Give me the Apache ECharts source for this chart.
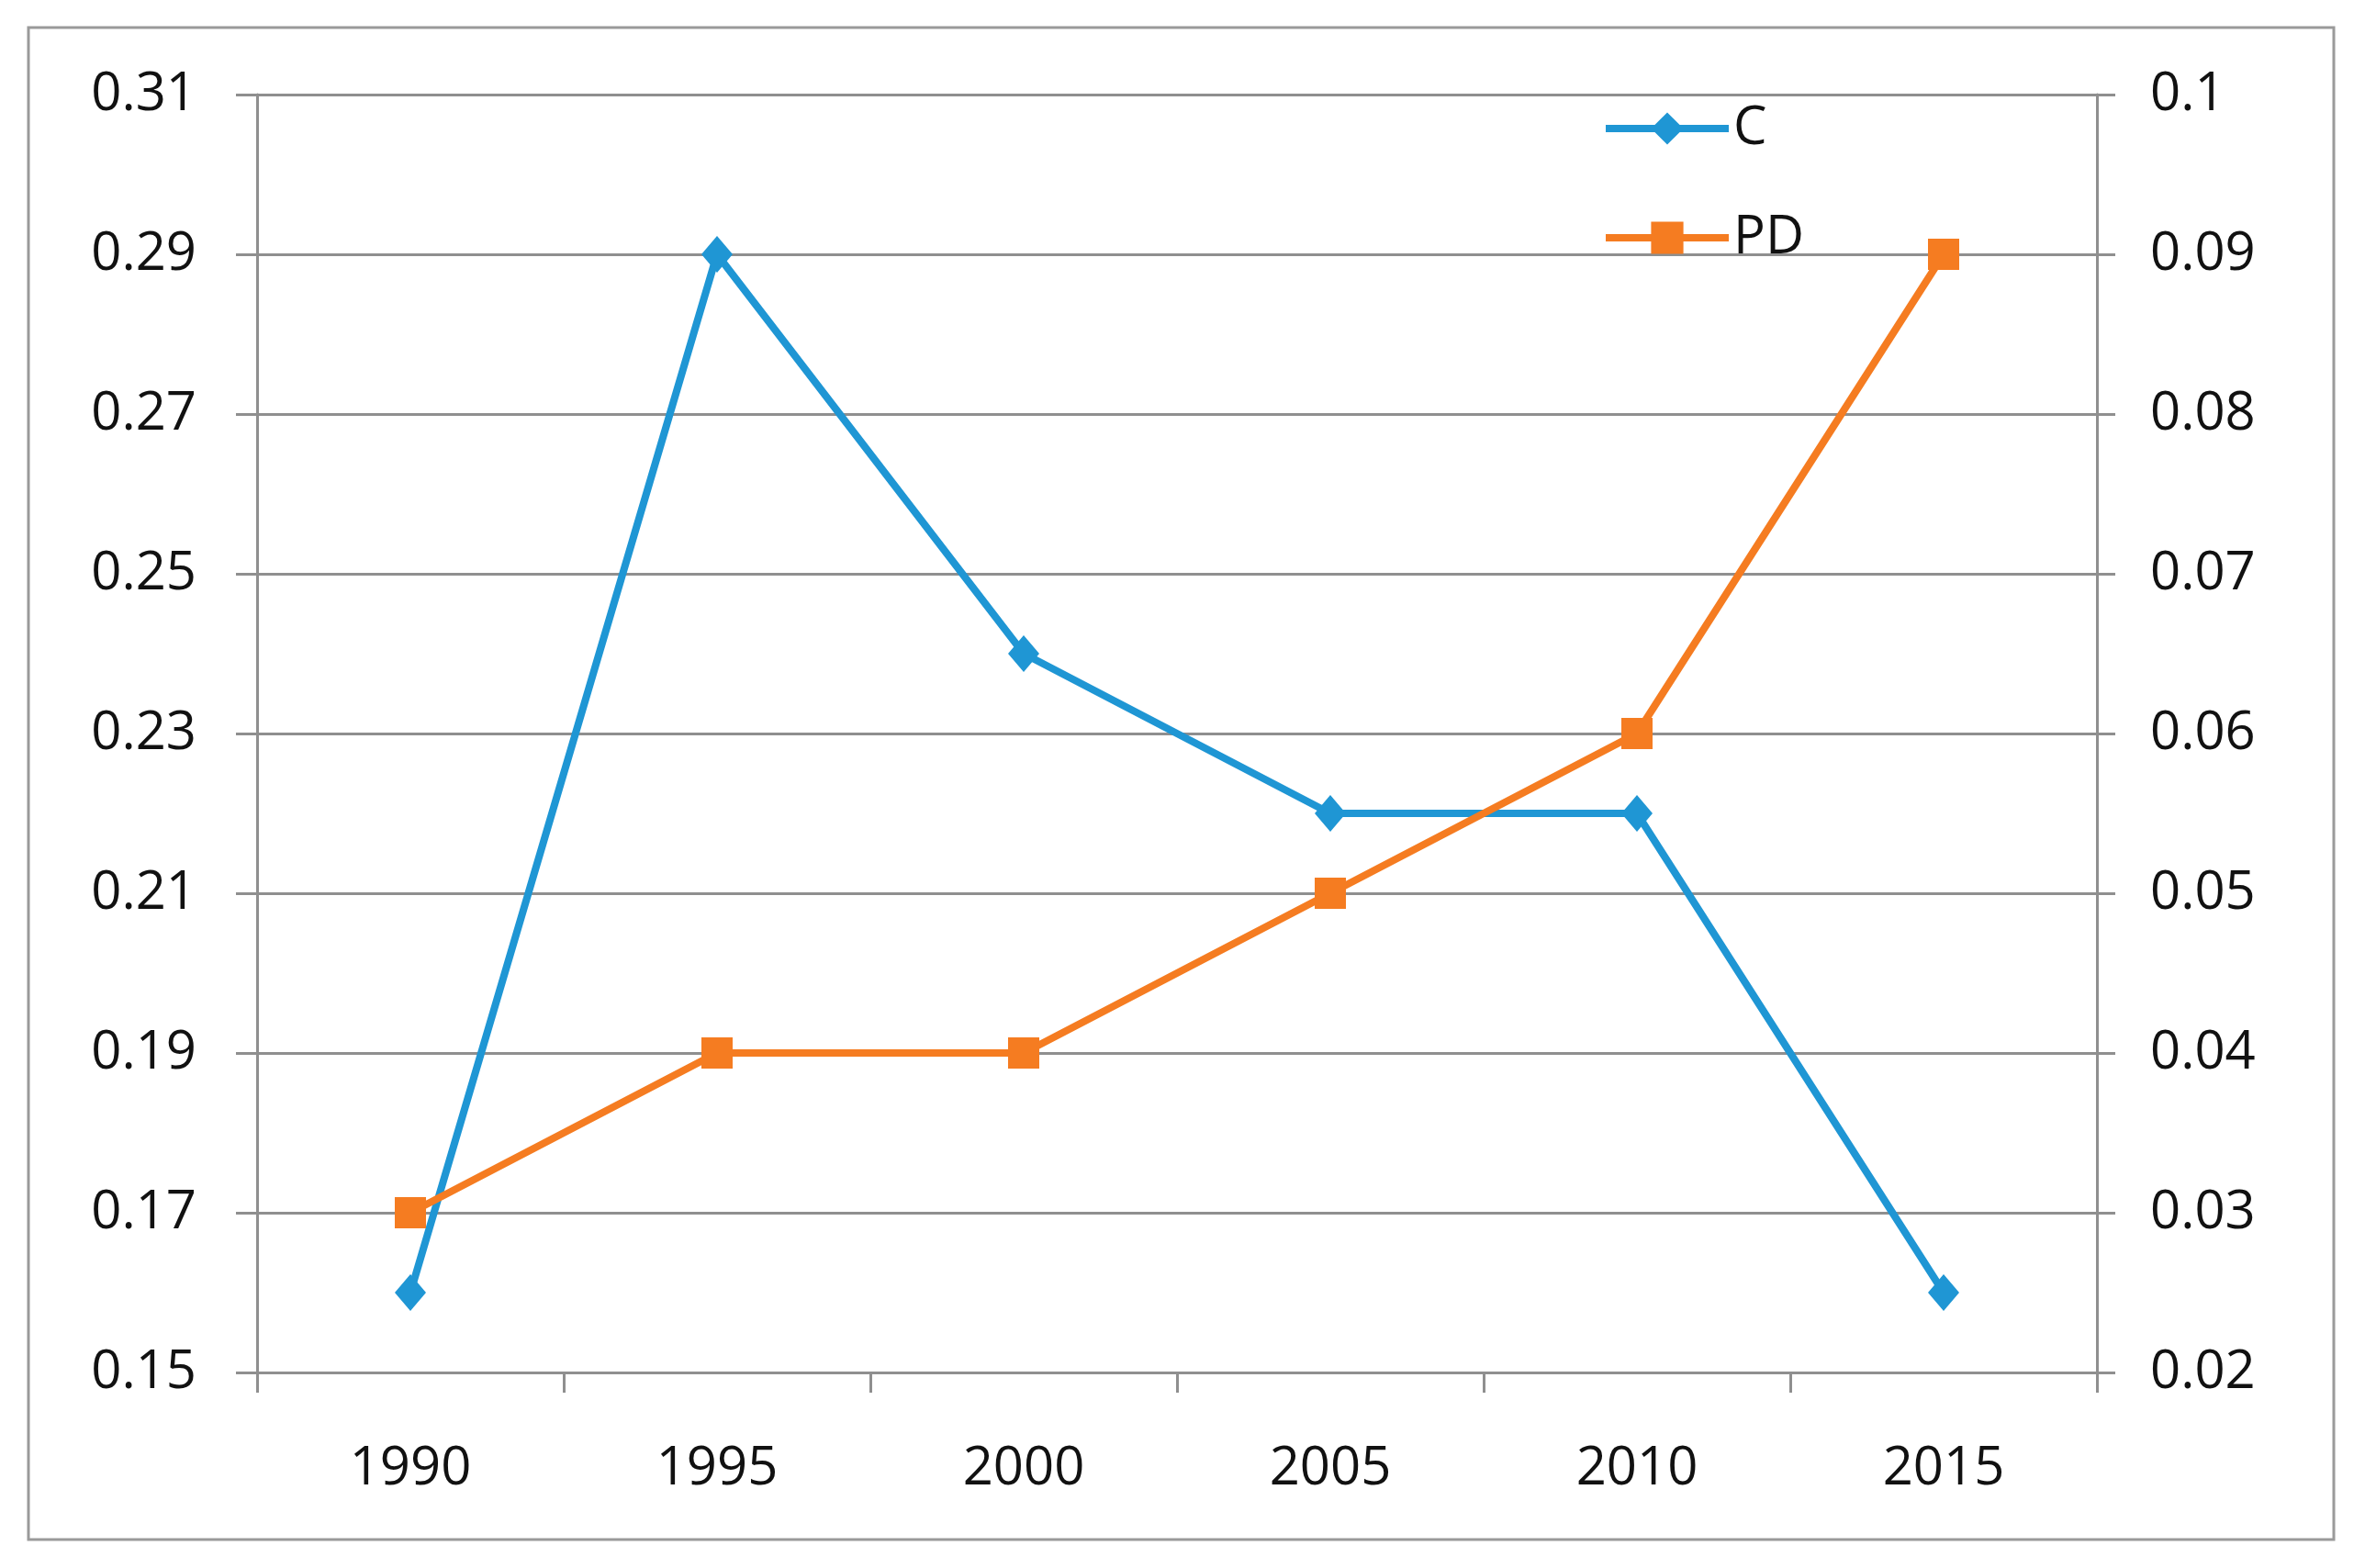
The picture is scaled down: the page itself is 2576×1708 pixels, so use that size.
<!DOCTYPE html>
<html>
<head>
<meta charset="utf-8">
<script src="https://cdn.jsdelivr.net/npm/echarts@6/dist/echarts.min.js"></script>
<style>
html,body{margin:0;padding:0;background:#fff;}
#chart{width:2576px;height:1708px;}
</style>
</head>
<body>
<div id="chart"></div>
<script>
const categories = ['1990', '1995', '2000', '2005', '2010', '2015'];
const seriesC = [0.16, 0.29, 0.24, 0.22, 0.22, 0.16];
const seriesPD = [0.03, 0.04, 0.04, 0.05, 0.06, 0.09];
const leftTicks = { min: 0.15, max: 0.31, interval: 0.02 };
const rightTicks = { min: 0.02, max: 0.1, interval: 0.01 };

const blue = '#1f96d4';
const orange = '#f57c21';
const gray = '#8f8f8f';
const font = 'Open Sans';
const fs = 58;

const chart = echarts.init(document.getElementById('chart'), null, { renderer: 'canvas' });
chart.setOption({
  backgroundColor: '#fff',
  animation: false,
  textStyle: { fontFamily: font },
  graphic: [{
    type: 'rect',
    shape: { x: 31, y: 30, width: 2511, height: 1647 },
    style: { fill: 'none', stroke: '#9a9a9a', lineWidth: 3 },
    silent: true
  }],
  legend: {
    orient: 'vertical',
    left: 1740,
    top: 106,
    itemWidth: 134,
    itemHeight: 44,
    itemGap: 61,
    lineStyle: { width: 8 },
    textStyle: { fontFamily: font, fontSize: fs, color: '#111', lineHeight: 44 },
    data: ['C', 'PD']
  },
  grid: { left: 280, right: 292, top: 103, bottom: 213 },
  xAxis: {
    type: 'category',
    data: categories,
    boundaryGap: true,
    axisLine: { lineStyle: { color: gray, width: 3 } },
    axisTick: { show: true, length: 22, lineStyle: { color: gray, width: 3 } },
    axisLabel: { fontFamily: font, fontSize: fs, color: '#111', margin: 76 },
    splitLine: { show: false }
  },
  yAxis: [{
    type: 'value',
    min: leftTicks.min, max: leftTicks.max, interval: leftTicks.interval,
    axisLine: { show: true, lineStyle: { color: gray, width: 3 } },
    axisTick: { show: true, length: 23, lineStyle: { color: gray, width: 3 } },
    axisLabel: { fontFamily: font, fontSize: fs, color: '#111', margin: 66, formatter: v => (+v.toFixed(2)).toString() },
    splitLine: { show: true, lineStyle: { color: gray, width: 3 } }
  }, {
    type: 'value',
    position: 'right',
    min: rightTicks.min, max: rightTicks.max, interval: rightTicks.interval,
    axisLine: { show: true, lineStyle: { color: gray, width: 3 } },
    axisTick: { show: true, length: 20, lineStyle: { color: gray, width: 3 } },
    axisLabel: { fontFamily: font, fontSize: fs, color: '#111', margin: 58, formatter: v => (+v.toFixed(2)).toString() },
    splitLine: { show: false }
  }],
  series: [{
    name: 'C',
    type: 'line',
    yAxisIndex: 0,
    data: seriesC,
    symbol: 'diamond',
    symbolSize: [34, 40],
    lineStyle: { color: blue, width: 8 },
    itemStyle: { color: blue },
    z: 3
  }, {
    name: 'PD',
    type: 'line',
    yAxisIndex: 1,
    data: seriesPD,
    symbol: 'rect',
    symbolSize: 34,
    lineStyle: { color: orange, width: 8 },
    itemStyle: { color: orange },
    z: 4
  }]
});
</script>
</body>
</html>
